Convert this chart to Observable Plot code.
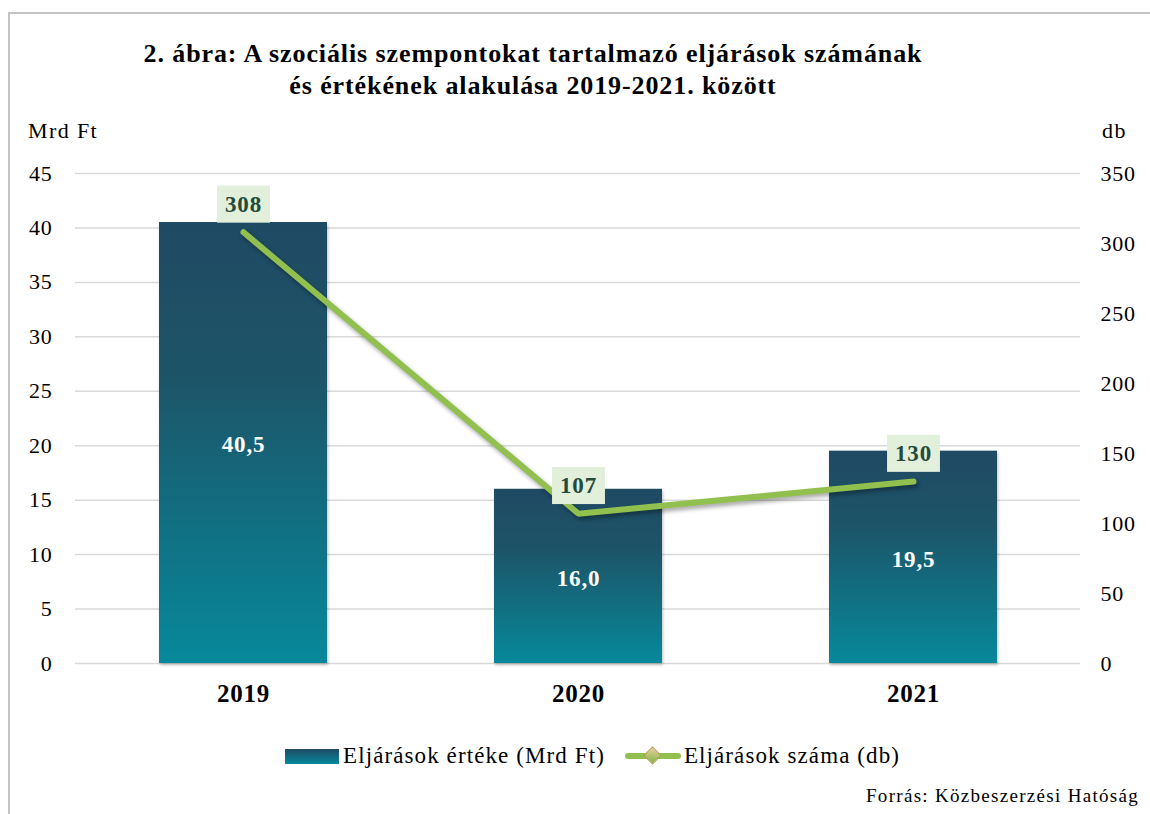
<!DOCTYPE html>
<html>
<head>
<meta charset="utf-8">
<script src="https://cdn.jsdelivr.net/npm/d3@7"></script>
<script src="https://cdn.jsdelivr.net/npm/@observablehq/plot@0.6"></script>
<style>
  html, body { margin: 0; padding: 0; width: 1150px; height: 814px; overflow: hidden; background: #fff; }
  body { position: relative; font-family: "Liberation Serif", serif; color: #000; }
  #frame { position: absolute; left: 8px; top: 12px; width: 1170px; height: 830px; border: 2px solid #c4c4c4; box-sizing: border-box; }
  #title { position: absolute; left: 0; width: 1066px; top: 38px; text-align: center; font-weight: bold; font-size: 26px; line-height: 32px; letter-spacing: 0.9px; }
  #chart { position: absolute; left: 0; top: 0; }
  .unit { position: absolute; font-size: 22px; top: 118px; letter-spacing: 1.4px; }
  #legend { position: absolute; top: 743px; left: 285px; font-size: 23px; display: flex; align-items: center; white-space: nowrap; letter-spacing: 1.1px; }
  .sw-bar { width: 54px; height: 15px; background: linear-gradient(#1f4a63, #07899b); margin-right: 4px; }
  .sw-line { position: relative; width: 56px; height: 16px; margin-left: 20px; margin-right: 3px; }
  .sw-line::before { content: ""; position: absolute; left: 0; right: 0; top: 5px; height: 6px; background: #92c04f; border-radius: 3px; }
  .sw-line::after { content: ""; position: absolute; left: 21px; top: 1px; width: 11px; height: 11px; background: linear-gradient(135deg, #e7d29a, #7fb447); border: 1px solid #b99a55; transform: rotate(45deg); }
  #source { position: absolute; left: 866px; top: 785px; font-size: 19px; letter-spacing: 1.3px; white-space: nowrap; }
</style>
</head>
<body>
<div id="frame"></div>
<div id="title">2. ábra: A szociális szempontokat tartalmazó eljárások számának<br>és értékének alakulása 2019-2021. között</div>
<div class="unit" style="left:28px">Mrd Ft</div>
<div class="unit" style="left:1102px">db</div>
<div id="chart"></div>
<div id="legend"><div class="sw-bar"></div><span>Eljárások értéke (Mrd Ft)</span><div class="sw-line"></div><span>Eljárások száma (db)</span></div>
<div id="source">Forrás: Közbeszerzési Hatóság</div>
<script>
// ---- data ----
const years = ["2019", "2020", "2021"];
const values = [40.5, 16.0, 19.5];      // Mrd Ft (left axis)
const counts = [308, 107, 130];         // db (right axis)
const leftTicks = [0, 5, 10, 15, 20, 25, 30, 35, 40, 45];
const rightTicks = [0, 50, 100, 150, 200, 250, 300, 350];
const leftMax = 45, rightMax = 350;

const data = years.map((year, i) => ({year, value: values[i], count: counts[i]}));
const k = leftMax / rightMax;
const fmt = v => v.toFixed(1).replace(".", ",");

const LINE_COLOR = "#92c04f";
const LABEL_COLOR = "#234a3a";

const defs = () => {
  const d = d3.create("svg:defs");
  const g = d.append("linearGradient").attr("id", "barGrad").attr("x1", 0).attr("y1", 0).attr("x2", 0).attr("y2", 1);
  g.append("stop").attr("offset", "0%").attr("stop-color", "#1f4a63");
  g.append("stop").attr("offset", "35%").attr("stop-color", "#1d5468");
  g.append("stop").attr("offset", "100%").attr("stop-color", "#07899b");
  return d.node();
};

const svg = Plot.plot({
  width: 1150,
  height: 720,
  marginTop: 173,
  marginBottom: 57,
  marginLeft: 75,
  marginRight: 70,
  style: {fontFamily: "Liberation Serif, serif", fontSize: "22px", color: "#000", background: "transparent", letterSpacing: "0.8px"},
  x: {type: "band", domain: years, paddingInner: 0.5, paddingOuter: 0.25},
  y: {domain: [0, leftMax]},
  marks: [
    defs,
    Plot.ruleY(leftTicks, {stroke: "#d9d9d9", strokeWidth: 1.5}),
    Plot.axisY(leftTicks, {anchor: "left", tickSize: 0, tickPadding: 23, label: null, fontSize: 22}),
    Plot.axisY(rightTicks.map(v => v * k), {anchor: "right", tickSize: 0, tickPadding: 20, label: null, fontSize: 22,
      tickFormat: d => String(Math.round(d / k)), textAnchor: "start"}),
    Plot.axisX({tickSize: 0, tickPadding: 21, label: null, fontSize: 25, fontWeight: "bold"}),
    Plot.barY(data, {x: "year", y: "value", fill: "url(#barGrad)"}),
    Plot.text(data, {x: "year", y: d => d.value / 2, text: d => fmt(d.value), fill: "#fff", fontWeight: "bold", fontSize: 23, dy: 2}),
    Plot.line(data, {x: "year", y: d => d.count * k, stroke: LINE_COLOR, strokeWidth: 6, strokeLinecap: "round", strokeLinejoin: "miter"}),
    Plot.text(data, {x: "year", y: d => d.count * k, dy: -28, text: d => String(d.count), fill: LABEL_COLOR, fontWeight: "bold", fontSize: 23})
  ]
});
document.getElementById("chart").appendChild(svg);

const s = d3.select(svg);
s.selectAll(`g[stroke="${LINE_COLOR}"]`).style("filter", "drop-shadow(2px 3px 2px rgba(0,0,0,0.35))");
s.selectAll('g[fill="url(#barGrad)"]').style("filter", "drop-shadow(1px 2px 1.5px rgba(0,0,0,0.25))");
s.selectAll(`g[fill="${LABEL_COLOR}"] text`).each(function () {
  const b = this.getBBox();
  const padX = 8, padY = 6;
  const r = d3.select(this.parentNode).insert("rect", () => this)
    .attr("x", b.x - padX).attr("y", b.y - padY)
    .attr("width", b.width + 2 * padX).attr("height", b.height + 2 * padY)
    .attr("fill", "#e2efda");
  const t = this.getAttribute("transform");
  if (t) r.attr("transform", t);
});
</script>
</body>
</html>
